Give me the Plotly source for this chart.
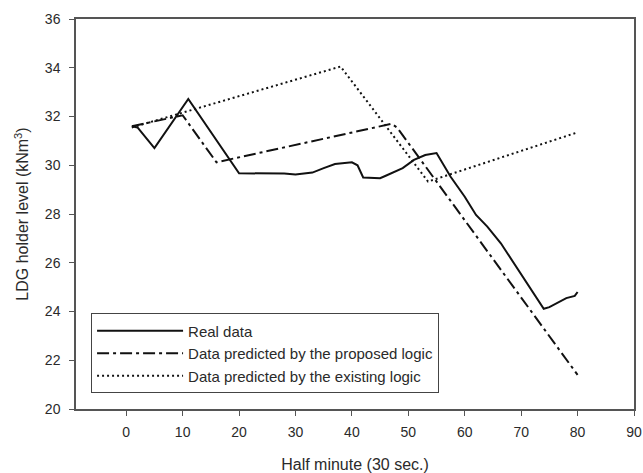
import plotly.graph_objects as go

# Real data
real_x = [1, 2, 5, 11, 20, 25, 28, 30, 33, 35, 37, 40, 41, 42, 45, 46, 49, 51, 53, 55, 57.5, 60, 62, 64, 65, 66.4, 74, 75, 78, 79.5, 80]
real_y = [31.6, 31.55, 30.7, 32.72, 29.67, 29.65, 29.66, 29.62, 29.7, 29.88, 30.05, 30.12, 30.0, 29.5, 29.47, 29.57, 29.88, 30.22, 30.42, 30.5, 29.53, 28.71, 27.96, 27.48, 27.2, 26.8, 24.11, 24.18, 24.55, 24.64, 24.8]

# Proposed logic prediction
prop_x = [1, 10, 16, 47, 48, 80]
prop_y = [31.6, 32.05, 30.12, 31.7, 31.55, 21.4]

# Existing logic prediction
exist_x = [1, 38, 53.5, 80]
exist_y = [31.55, 34.05, 29.33, 31.35]

x_ticks = [0, 10, 20, 30, 40, 50, 60, 70, 80, 90]
y_ticks = [20, 22, 24, 26, 28, 30, 32, 34, 36]

FONT = "Liberation Sans, Arial, sans-serif"
TXT = "#2a2a2a"
AX = "#555555"

fig = go.Figure()
fig.add_trace(go.Scatter(x=real_x, y=real_y, mode="lines", name="Real data",
                         line=dict(color="#111111", width=2)))
fig.add_trace(go.Scatter(x=prop_x, y=prop_y, mode="lines",
                         name="Data predicted by the proposed logic",
                         line=dict(color="#111111", width=2, dash="12px,4px,3px,4px")))
fig.add_trace(go.Scatter(x=exist_x, y=exist_y, mode="lines",
                         name="Data predicted by the existing logic",
                         line=dict(color="#111111", width=2, dash="2px,3px")))

fig.update_layout(
    width=643, height=473,
    margin=dict(l=76, r=9, t=19, b=64, autoexpand=False),
    paper_bgcolor="white", plot_bgcolor="white",
    font=dict(family=FONT, size=14, color=TXT),
    showlegend=True,
    legend=dict(x=0.027, y=0.04, xanchor="left", yanchor="bottom",
                bgcolor="white", bordercolor="#444444", borderwidth=1,
                font=dict(size=15, color=TXT), itemwidth=86,
                tracegroupgap=0),
    xaxis=dict(range=[-8.9, 90], tickvals=x_ticks, ticks="outside", ticklen=5,
               tickcolor=AX, showline=True, linecolor=AX, linewidth=1.5,
               mirror=True, showgrid=False, zeroline=False, automargin=False,
               ticklabelstandoff=4,
               tickfont=dict(size=14, color=TXT),
               title=dict(text="Half minute (30 sec.)", font=dict(size=16, color=TXT),
                          standoff=22)),
    yaxis=dict(range=[20, 36], tickvals=y_ticks, ticks="outside", ticklen=5,
               tickcolor=AX, showline=True, linecolor=AX, linewidth=1.5,
               mirror=True, showgrid=False, zeroline=False, automargin=False,
               ticklabelstandoff=6,
               tickfont=dict(size=14, color=TXT),
               title=dict(text="LDG holder level (kNm<sup>3</sup>)",
                          font=dict(size=16, color=TXT), standoff=12)),
)

fig.write_html("out.html", config={"displayModeBar": False},
               post_script="document.body.style.margin='0';document.body.style.padding='0';")
